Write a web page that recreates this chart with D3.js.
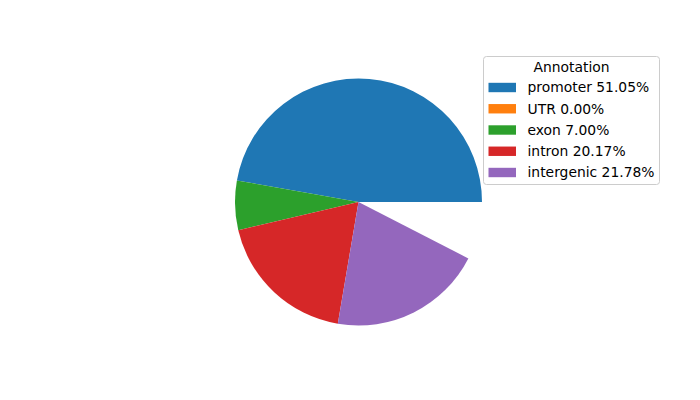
<!DOCTYPE html>
<html>
<head>
<meta charset="utf-8">
<script src="https://cdn.jsdelivr.net/npm/d3@7"></script>
<style>
  body { margin: 0; background: #fff; }
  text { font-family: "DejaVu Sans", sans-serif; }
</style>
</head>
<body>
<div class="chart"></div>
<script>
var svgWidth = 700;
var svgHeight = 400;

// wedge sizes (they do not fill the whole circle)
var categories = ["promoter", "UTR", "exon", "intron", "intergenic"];
var values = [0.4720, 0.0000, 0.0647, 0.1865, 0.2013];
var legendPct = ["51.05%", "0.00%", "7.00%", "20.17%", "21.78%"];
var colors = ["#1f77b4", "#ff7f0e", "#2ca02c", "#d62728", "#9467bd"];

var center = { x: 358.5, y: 202 };
var radius = 123.5;

var svg = d3.select(".chart")
  .append("svg")
  .attr("width", svgWidth)
  .attr("height", svgHeight);

// matplotlib style: start at 3 o'clock, go counterclockwise
var angleScale = d3.scaleLinear()
  .domain([0, 1])
  .range([Math.PI / 2, Math.PI / 2 - 2 * Math.PI]);

var slices = [];
var cum = 0;
values.forEach(function (v, i) {
  slices.push({ name: categories[i], start: cum, end: cum + v, color: colors[i] });
  cum += v;
});

var arc = d3.arc()
  .innerRadius(0)
  .outerRadius(radius)
  .startAngle(d => angleScale(d.start))
  .endAngle(d => angleScale(d.end));

var pieGroup = svg.append("g")
  .attr("transform", `translate(${center.x}, ${center.y})`);

pieGroup.selectAll("path")
  .data(slices.filter(d => d.end > d.start))
  .enter()
  .append("path")
  .attr("d", arc)
  .attr("fill", d => d.color);

// Legend
var lx = 483, ly = 56, lw = 177, lh = 129;
var legend = svg.append("g");

legend.append("rect")
  .attr("x", lx + 0.5)
  .attr("y", ly + 0.5)
  .attr("width", lw - 1)
  .attr("height", lh - 1)
  .attr("rx", 3)
  .attr("fill", "white")
  .attr("fill-opacity", 0.8)
  .attr("stroke", "#cccccc")
  .attr("stroke-width", 1);

legend.append("text")
  .attr("x", lx + lw / 2)
  .attr("y", 67)
  .attr("dy", "0.35em")
  .attr("text-anchor", "middle")
  .style("font-size", "13.89px")
  .attr("fill", "#000")
  .text("Annotation");

var rows = legend.selectAll(".row")
  .data(categories)
  .enter()
  .append("g")
  .attr("class", "row")
  .attr("transform", (d, i) => `translate(0, ${87.5 + i * 21.25})`);

rows.append("rect")
  .attr("x", 488.5)
  .attr("y", -4.7)
  .attr("width", 27.5)
  .attr("height", 9.4)
  .attr("fill", (d, i) => colors[i]);

rows.append("text")
  .attr("x", 527.5)
  .attr("dy", "0.35em")
  .style("font-size", "13.89px")
  .attr("fill", "#000")
  .text((d, i) => d + " " + legendPct[i]);
</script>
</body>
</html>
